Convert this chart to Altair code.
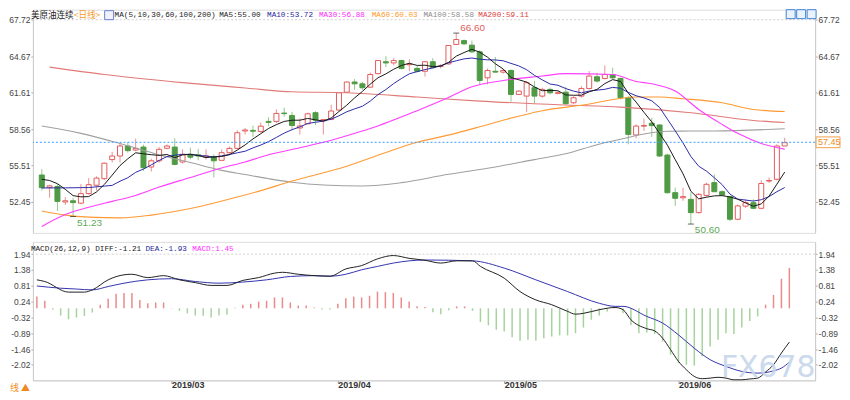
import altair as alt
import pandas as pd

# ---------------- data ----------------
opens = [54.71, 53.65, 53.75, 52.45, 52.55, 52.35, 53.15, 53.85, 54.40, 56.00,
         56.30, 57.14, 56.80, 57.05, 55.38, 55.90, 56.95, 57.05, 55.80, 56.44,
         56.40, 56.20, 56.25, 55.94, 56.58, 56.94, 58.40, 58.45, 58.35, 59.20,
         59.20, 59.90, 59.70, 58.65, 59.00, 59.93, 59.25, 59.37, 60.15, 61.65,
         62.50, 62.35, 62.07, 63.20, 64.20, 64.10, 64.30, 63.95, 63.64, 63.40,
         64.20, 63.80, 64.02, 65.65, 65.97, 65.59, 65.03, 62.85, 63.40, 63.33,
         63.47, 61.46, 61.32, 62.02, 61.32, 61.88, 61.55, 61.65, 60.76, 61.32,
         61.96, 62.94, 62.80, 63.13, 62.80, 61.18, 58.06, 58.80, 59.05, 58.90,
         56.38, 53.23, 52.80, 52.67, 51.56, 53.00, 54.07, 53.31, 52.90, 51.00,
         52.10, 52.39, 51.92, 54.20, 54.35, 57.14]
highs = [55.20, 53.90, 53.95, 52.85, 52.80, 53.95, 54.45, 54.60, 55.75, 56.65,
         57.30, 57.45, 57.75, 57.25, 56.08, 57.05, 57.27, 57.78, 56.86, 57.00,
         56.90, 56.86, 56.44, 56.86, 57.10, 58.45, 58.65, 58.85, 59.10, 59.55,
         60.20, 60.35, 60.00, 59.45, 59.93, 60.05, 59.35, 60.60, 61.62, 62.55,
         62.75, 62.52, 63.30, 64.30, 64.67, 64.50, 64.38, 64.40, 63.84, 64.25,
         64.50, 64.00, 65.60, 66.60, 66.06, 65.97, 65.15, 63.64, 64.60, 63.55,
         63.55, 61.80, 62.58, 62.58, 62.02, 62.02, 61.74, 62.10, 61.32, 62.16,
         63.42, 63.27, 63.90, 63.70, 62.86, 61.32, 58.95, 59.45, 59.50, 58.95,
         56.50, 53.65, 53.65, 53.25, 53.20, 54.07, 54.75, 53.42, 52.95, 52.25,
         52.68, 52.68, 54.28, 54.50, 57.28, 57.83]
lows = [53.40, 52.80, 51.70, 52.20, 51.23, 52.25, 53.05, 53.40, 54.30, 55.75,
        55.75, 56.58, 56.70, 55.05, 55.00, 55.75, 56.86, 55.52, 55.66, 56.02,
        55.95, 56.00, 54.50, 55.88, 56.40, 56.86, 58.10, 57.90, 58.25, 58.80,
        59.05, 59.60, 58.45, 58.10, 58.95, 58.90, 58.10, 59.30, 60.10, 61.60,
        61.85, 61.85, 62.00, 63.15, 63.75, 63.90, 63.55, 63.40, 63.30, 62.95,
        63.64, 63.64, 63.95, 65.60, 65.59, 64.95, 62.24, 62.30, 63.30, 63.20,
        60.85, 61.40, 59.98, 60.70, 61.18, 61.46, 61.46, 60.62, 60.68, 61.18,
        61.88, 62.44, 62.72, 62.72, 61.04, 57.28, 57.78, 58.40, 57.90, 56.22,
        53.15, 52.12, 52.55, 50.60, 51.48, 52.88, 53.70, 52.95, 50.85, 50.92,
        51.95, 51.84, 51.84, 54.05, 54.25, 57.14]
closes = [53.65, 53.80, 52.50, 52.55, 52.40, 53.15, 53.90, 54.45, 55.70, 56.30,
          57.14, 56.75, 56.94, 55.32, 55.90, 56.86, 57.14, 55.60, 56.44, 56.20,
          56.30, 56.32, 55.90, 56.58, 56.94, 58.25, 58.48, 58.38, 58.80, 59.12,
          59.87, 59.85, 58.86, 58.82, 59.84, 59.30, 59.35, 60.07, 61.60, 62.50,
          62.35, 62.02, 63.13, 64.30, 64.10, 64.30, 63.64, 64.00, 63.40, 64.20,
          63.70, 63.85, 65.56, 66.06, 65.70, 65.03, 62.63, 63.47, 63.33, 63.47,
          61.46, 61.74, 62.44, 61.32, 61.88, 61.60, 61.60, 60.68, 61.18, 61.96,
          63.00, 62.58, 63.13, 62.85, 61.18, 58.11, 58.81, 58.86, 58.85, 56.30,
          53.23, 52.76, 52.90, 51.56, 53.09, 53.93, 53.31, 53.03, 51.00, 52.12,
          52.39, 51.92, 54.00, 54.25, 57.14, 57.42]

ma5 = [54.35, 54.25, 53.98, 53.51, 52.98, 52.88, 52.90, 53.29, 53.92, 54.70,
       55.50, 56.07, 56.57, 56.49, 56.41, 56.35, 56.43, 56.16, 56.39, 56.45,
       56.34, 56.17, 56.23, 56.26, 56.41, 56.80, 57.23, 57.73, 58.17, 58.61,
       58.93, 59.20, 59.30, 59.30, 59.45, 59.33, 59.23, 59.48, 60.03, 60.56,
       61.17, 61.71, 62.32, 62.86, 63.18, 63.57, 63.89, 64.07, 63.89, 63.91,
       63.79, 63.83, 64.14, 64.67, 64.97, 65.24, 65.00, 64.58, 64.03, 63.59,
       62.87, 62.69, 62.49, 62.09, 61.77, 61.80, 61.77, 61.42, 61.39, 61.40,
       61.68, 61.88, 62.37, 62.70, 62.55, 61.57, 60.82, 59.96, 59.16, 58.19,
       57.21, 56.00, 54.81, 53.35, 52.71, 52.85, 52.96, 52.98, 52.87, 52.68,
       52.37, 52.09, 52.29, 52.94, 53.94, 54.95]
ma10 = [53.62, 53.63, 53.63, 53.63, 53.64, 53.65, 53.66, 53.72, 53.78, 53.84,
        54.19, 54.48, 54.93, 55.21, 55.56, 55.93, 56.25, 56.37, 56.44, 56.43,
        56.35, 56.30, 56.20, 56.32, 56.43, 56.57, 56.70, 56.98, 57.22, 57.51,
        57.86, 58.22, 58.51, 58.74, 59.03, 59.13, 59.22, 59.39, 59.67, 60.01,
        60.25, 60.47, 60.90, 61.45, 61.87, 62.37, 62.80, 63.19, 63.37, 63.54,
        63.68, 63.86, 64.11, 64.28, 64.44, 64.51, 64.41, 64.36, 64.35, 64.28,
        64.06, 63.85, 63.53, 63.06, 62.68, 62.33, 62.23, 61.95, 61.74, 61.59,
        61.74, 61.82, 61.89, 62.05, 61.98, 61.63, 61.35, 61.17, 60.93, 60.37,
        59.39, 58.41, 57.39, 56.26, 55.45, 55.03, 54.48, 53.90, 53.11, 52.69,
        52.61, 52.53, 52.64, 52.90, 53.31, 53.66]

ma30_i = [0, 3, 6, 9, 12, 15, 19, 23, 26, 29, 33, 36, 39, 42, 48, 52, 55, 59, 64, 67,
          73, 76, 78, 81, 84, 87, 89, 92, 95]
ma30_v = [50.40, 51.40, 52.00, 52.50, 53.00, 53.70, 54.50, 55.30, 55.80, 56.40, 57.00,
          57.45, 58.00, 58.60, 60.10, 61.20, 62.10, 62.63, 63.00, 63.20, 63.13, 62.55,
          62.35, 61.75, 60.20, 58.95, 58.20, 57.35, 56.88]
ma60_i = [0, 3, 6, 10, 14, 19, 24, 28, 32, 36, 39, 44, 48, 52, 56, 59, 64, 69, 76, 79,
          82, 87, 91, 95]
ma60_v = [51.70, 51.35, 51.18, 51.12, 51.35, 51.90, 52.70, 53.40, 54.20, 54.90, 55.45,
          56.60, 57.45, 58.05, 58.75, 59.30, 60.10, 60.55, 61.25, 61.25, 61.10, 60.76,
          60.20, 60.03]
ma100_i = [0, 5, 10, 15, 19, 23, 26, 29, 32, 36, 41, 46, 52, 58, 63, 67, 71, 74, 77,
           80, 86, 95]
ma100_v = [58.81, 58.20, 57.35, 56.40, 55.75, 55.10, 54.75, 54.40, 54.10, 53.87, 53.79,
           54.07, 54.77, 55.38, 56.00, 56.49, 57.25, 57.70, 58.15, 58.38, 58.40, 58.58]
ma200_i = [1, 8, 18, 26, 32, 39, 48, 56, 67, 74, 83, 91, 95]
ma200_v = [63.75, 63.13, 62.45, 62.00, 61.68, 61.60, 61.24, 60.90, 60.57, 60.40, 59.93,
           59.28, 59.11]

macd_hist = [0.42, 0.27, -0.05, -0.26, -0.39, -0.33, -0.27, -0.15, 0.13, 0.34,
             0.52, 0.55, 0.55, 0.30, 0.18, 0.21, 0.21, 0.01, -0.09, -0.18,
             -0.26, -0.27, -0.33, -0.26, -0.23, 0.02, 0.13, 0.16, 0.24, 0.27,
             0.39, 0.39, 0.21, 0.10, 0.10, 0.03, -0.04, -0.04, 0.16, 0.36,
             0.42, 0.39, 0.45, 0.60, 0.58, 0.55, 0.39, 0.24, 0.07, 0.05,
             -0.14, -0.21, -0.07, 0.07, 0.07, -0.09, -0.49, -0.61, -0.77, -0.83,
             -1.04, -1.16, -1.13, -1.16, -1.07, -1.01, -0.97, -0.97, -0.89, -0.69,
             -0.41, -0.26, -0.11, 0.01, -0.18, -0.61, -0.89, -0.87, -0.92, -1.19,
             -1.66, -1.96, -2.02, -2.05, -1.72, -1.37, -1.13, -0.89, -0.92, -0.69,
             -0.45, -0.29, 0.13, 0.48, 1.06, 1.45]
diff_i = [0, 1, 4, 6, 7, 9, 11, 12, 14, 16, 18, 20, 22, 24, 26, 28, 30, 31, 33, 35, 37,
          39, 41, 43, 45, 47, 49, 51, 53, 55, 56, 59, 61, 63, 65, 67, 68, 69, 71, 73, 74,
          75, 77, 78, 79, 80, 81, 82, 83, 84, 85, 86, 87, 88, 89, 90, 91, 92, 93, 94, 95]
diff_v = [1.02, 0.96, 0.58, 0.58, 0.66, 1.02, 1.20, 1.22, 1.10, 1.17, 1.02, 0.92, 0.82,
          0.82, 1.00, 1.10, 1.26, 1.29, 1.22, 1.17, 1.15, 1.41, 1.53, 1.77, 1.89, 1.79,
          1.72, 1.62, 1.70, 1.70, 1.50, 1.08, 0.60, 0.30, 0.13, -0.11, -0.21, -0.18,
          -0.05, 0.03, -0.05, -0.41, -0.73, -0.81, -1.07, -1.48, -1.90, -2.20, -2.44,
          -2.52, -2.50, -2.47, -2.50, -2.56, -2.56, -2.53, -2.50, -2.28, -2.02, -1.60,
          -1.21]
dea_i = [0, 3, 5, 7, 9, 11, 14, 17, 20, 23, 26, 29, 32, 35, 37, 39, 41, 43, 45, 47, 49,
         55, 59, 63, 67, 71, 73, 74, 77, 79, 81, 83, 85, 87, 89, 91, 92, 93, 94, 95]
dea_v = [0.80, 0.72, 0.69, 0.66, 0.78, 0.90, 1.02, 1.06, 0.96, 0.90, 0.94, 1.02, 1.14,
         1.17, 1.15, 1.22, 1.38, 1.50, 1.62, 1.70, 1.73, 1.70, 1.44, 1.02, 0.60, 0.18,
         0.07, 0.07, -0.29, -0.53, -0.95, -1.43, -1.84, -2.08, -2.26, -2.32, -2.30,
         -2.24, -2.14, -1.93]

month_ticks = [17, 38, 59, 81]
month_labels = ["2019/03", "2019/04", "2019/05", "2019/06"]
price_ticks = [52.45, 55.51, 58.56, 61.61, 64.67, 67.72]
macd_ticks = [1.94, 1.38, 0.81, 0.24, -0.32, -0.89, -1.46, -2.02]
last_price = 57.45
extremes_i = [4, 53, 83]
extremes_v = [51.23, 66.60, 50.60]

main_title = ["美原油连续", "<日线>", "MA(5,10,30,60,100,200)", "MA5:55.00", "MA10:53.72",
              "MA30:56.88", "MA60:60.03", "MA100:58.58", "MA200:59.11"]
macd_title = ["MACD(26,12,9) DIFF:-1.21", "DEA:-1.93", "MACD:1.45"]

# ---------------- layout / styles ----------------
W, H1, H2 = 785, 224, 139
XDOM = [-0.5, 98.25]
PDOM = [49.86, 68.56]
MDOM = [-2.58, 2.38]
RED, RED_W = "#e25b5b", "#e99393"
GREEN, GREEN_W = "#4f9a44", "#95c78d"
MONO = "Liberation Mono"
SANS = "Liberation Sans"
CJK = "Noto Sans CJK SC"

df = pd.DataFrame({"i": list(range(len(closes))), "open": opens, "high": highs,
                   "low": lows, "close": closes})
up = df[df["close"] >= df["open"]]
dn = df[df["close"] < df["open"]]

xscale = alt.Scale(domain=XDOM, nice=False, zero=False)
pscale = alt.Scale(domain=PDOM, nice=False, zero=False)
mscale = alt.Scale(domain=MDOM, nice=False, zero=False)

neg_expr = "(datum.value < 0 ? '-' : '') + format(abs(datum.value), '.2f')"
axis_common = dict(labelFontSize=8.5, labelColor="#444444", labelFont=SANS, tickSize=2,
                   tickColor="#aaaaaa", domainColor="#cccccc", grid=False,
                   labelPadding=1, labelExpr=neg_expr)
p_left = alt.Axis(orient="left", values=price_ticks, minExtent=23, maxExtent=23, **axis_common)
p_right = alt.Axis(orient="right", values=price_ticks, **axis_common)
m_left = alt.Axis(orient="left", values=macd_ticks, minExtent=23, maxExtent=23, **axis_common)
m_right = alt.Axis(orient="right", values=macd_ticks, **axis_common)

month_expr = " : ".join(f"datum.value == {t} ? '{l}'" for t, l in zip(month_ticks, month_labels)) + " : ''"
x_axis = alt.Axis(values=month_ticks, labelExpr=month_expr, labelAlign="left",
                  labelFontSize=9, labelFontWeight="bold", labelColor="#333333",
                  labelFont=SANS, tickSize=3, tickColor="#999999", domainColor="#cccccc",
                  grid=False, labelPadding=-3, labelFlush=False)


def X(field="i:Q", axis=None):
    if axis is None:
        return alt.X(field, scale=xscale, axis=None, title=None)
    return alt.X(field, scale=xscale, axis=axis, title=None)


def PY(field):
    return alt.Y(field, scale=pscale, axis=p_left, title=None)


def MY(field):
    return alt.Y(field, scale=mscale, axis=m_left, title=None)


def text_at(txt, x, y, color, font, size, align="left", weight="normal", opacity=1.0):
    return alt.Chart(pd.DataFrame({"t": [txt]})).mark_text(
        align=align, baseline="middle", color=color, font=font, fontSize=size,
        fontWeight=weight, opacity=opacity
    ).encode(x=alt.value(x), y=alt.value(y), text="t:N")


# ---------------- main (price) panel ----------------
layers = []
layers.append(alt.Chart(pd.DataFrame({"v": [price_ticks[-1]]})).mark_rule(
    color="#d0d0d0", strokeDash=[2, 2]).encode(y=PY("v:Q")))
layers.append(alt.Chart(up).mark_rule(color=RED_W, strokeWidth=1).encode(
    x=X(), y=PY("low:Q"), y2="high:Q"))
layers.append(alt.Chart(dn).mark_rule(color=GREEN_W, strokeWidth=1).encode(
    x=X(), y=PY("low:Q"), y2="high:Q"))
layers.append(alt.Chart(up).mark_bar(size=5, fill="#ffffff", stroke=RED, strokeWidth=1).encode(
    x=X(), y=PY("open:Q"), y2="close:Q"))
layers.append(alt.Chart(dn).mark_bar(size=5, fill=GREEN, stroke=GREEN, strokeWidth=1).encode(
    x=X(), y=PY("open:Q"), y2="close:Q"))

long_mas = [(ma200_i, ma200_v, "#e07a78"), (ma100_i, ma100_v, "#a0a0a0"),
            (ma60_i, ma60_v, "#ff9a33"), (ma30_i, ma30_v, "#ff3dff")]
for ii, vv, col in long_mas:
    layers.append(alt.Chart(pd.DataFrame({"i": ii, "v": vv})).mark_line(
        color=col, strokeWidth=1.1, interpolate="monotone").encode(x=X(), y=PY("v:Q")))
for vv, col in [(ma10, "#2c2ca8"), (ma5, "#1a1a1a")]:
    layers.append(alt.Chart(pd.DataFrame({"i": df["i"], "v": vv})).mark_line(
        color=col, strokeWidth=1).encode(x=X(), y=PY("v:Q")))

lp = pd.DataFrame({"v": [last_price], "lo": [last_price - 0.45], "hi": [last_price + 0.45],
                   "t": [f"{last_price:.2f}"]})
layers.append(alt.Chart(lp).mark_rule(color="#3d9bff", strokeDash=[2, 2]).encode(y=PY("v:Q")))
layers.append(alt.Chart(lp).mark_rect(fill="#ffffff", stroke="#f5a04a", strokeWidth=1).encode(
    x=alt.value(W + 1), x2=alt.value(W + 25), y=PY("lo:Q"), y2="hi:Q"))
layers.append(alt.Chart(lp).mark_text(align="left", baseline="middle", color="#f08a20",
                                      font=SANS, fontSize=9).encode(
    x=alt.value(W + 3), y=PY("v:Q"), text="t:N"))

ext = pd.DataFrame({"i": extremes_i, "v": extremes_v, "t": [f"{v:.2f}" for v in extremes_v]})
layers.append(alt.Chart(ext).mark_tick(orient="horizontal", size=6, thickness=1,
                                       color="#222222").encode(x=X(), y=PY("v:Q")))
ext_colors = ["#5ea956", "#e06060", "#5ea956"]
ext_dy = [6, -5, 6]
for k in range(len(extremes_i)):
    layers.append(alt.Chart(ext.iloc[[k]]).mark_text(
        align="left", baseline="middle", dx=4, dy=ext_dy[k], color=ext_colors[k],
        font=SANS, fontSize=10).encode(x=X(), y=PY("v:Q"), text="t:N"))

# title strip
ty = 5
layers.append(text_at(main_title[0], -2, ty, "#222222", CJK, 8.6))
layers.append(text_at(main_title[1], 41, ty, "#f39c2b", CJK, 8.6))
layers.append(alt.Chart(pd.DataFrame({"a": [0]})).mark_rect(
    fill="#eef2fb", stroke="#6b7fcf", strokeWidth=1).encode(
    x=alt.value(72), x2=alt.value(81), y=alt.value(1), y2=alt.value(10)))
title_x = [82, 187, 235, 287, 340, 392, 447]
title_c = ["#222222", "#222222", "#1f1f9c", "#ff2bff", "#ff9a1f", "#8c8c8c", "#e03c3c"]
for t, x, c in zip(main_title[2:], title_x, title_c):
    layers.append(text_at(t, x, ty, c, MONO, 7.7))
# toolbar icons top-right
for k in range(3):
    layers.append(alt.Chart(pd.DataFrame({"a": [k]})).mark_rect(
        fill="#eaf2fc", stroke="#3f82d6", strokeWidth=1).encode(
        x=alt.value(756 + 10.5 * k), x2=alt.value(765 + 10.5 * k),
        y=alt.value(0), y2=alt.value(9)))

main_inner = alt.layer(*layers)
main_right = alt.Chart(pd.DataFrame({"v": price_ticks})).mark_point(opacity=0).encode(
    y=alt.Y("v:Q", scale=pscale, axis=p_right, title=None))
main = alt.layer(main_inner, main_right).resolve_scale(y="independent").properties(
    width=W, height=H1)

# ---------------- MACD panel ----------------
hist = pd.DataFrame({"i": list(range(len(macd_hist))), "v": macd_hist, "z": 0.0})
mlayers = []
mlayers.append(alt.Chart(pd.DataFrame({"v": [macd_ticks[0]]})).mark_rule(
    color="#d0d0d0", strokeDash=[2, 2]).encode(y=MY("v:Q")))
mlayers.append(alt.Chart(hist[hist["v"] >= 0]).mark_rule(color="#e98b8b", strokeWidth=1.5).encode(
    x=X(axis=x_axis), y=MY("v:Q"), y2="z:Q"))
mlayers.append(alt.Chart(hist[hist["v"] < 0]).mark_rule(color="#a6d39c", strokeWidth=1.5).encode(
    x=X(axis=x_axis), y=MY("v:Q"), y2="z:Q"))
mlayers.append(alt.Chart(pd.DataFrame({"i": dea_i, "v": dea_v})).mark_line(
    color="#3434b0", strokeWidth=1, interpolate="monotone").encode(x=X(axis=x_axis), y=MY("v:Q")))
mlayers.append(alt.Chart(pd.DataFrame({"i": diff_i, "v": diff_v})).mark_line(
    color="#222222", strokeWidth=1, interpolate="monotone").encode(x=X(axis=x_axis), y=MY("v:Q")))

my = 7
mlayers.append(text_at(macd_title[0], -2, my, "#222222", MONO, 7.7))
mlayers.append(text_at(macd_title[1], 113, my, "#1f1f9c", MONO, 7.7))
mlayers.append(text_at(macd_title[2], 160, my, "#ff2bff", MONO, 7.7))
mlayers.append(text_at("FX678", 738, 127, "#c6d6ea", "DejaVu Sans", 30, align="center",
                       opacity=0.9))
mlayers.append(text_at("线 ▲", -23, 147, "#f08a20", CJK, 9))

macd_inner = alt.layer(*mlayers)
macd_right = alt.Chart(pd.DataFrame({"v": macd_ticks})).mark_point(opacity=0).encode(
    y=alt.Y("v:Q", scale=mscale, axis=m_right, title=None))
macd = alt.layer(macd_inner, macd_right).resolve_scale(y="independent").properties(
    width=W, height=H2)

chart = alt.vconcat(main, macd, spacing=5).properties(
    padding={"left": 0, "top": 0, "right": 0, "bottom": 0}
).configure_view(stroke="#dcdcdc").configure(font=SANS, background="#ffffff")

chart.save("out.html", embed_options={"renderer": "svg", "actions": False})
